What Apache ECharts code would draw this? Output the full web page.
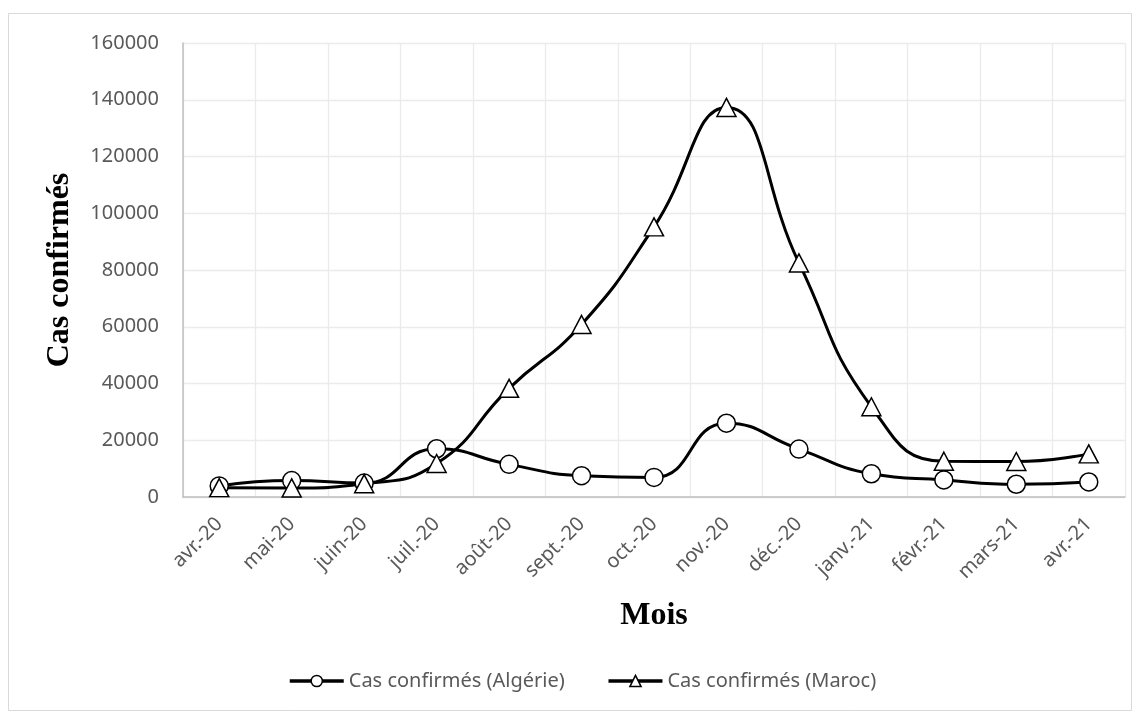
<!DOCTYPE html>
<html>
<head>
<meta charset="utf-8">
<script src="https://cdn.jsdelivr.net/npm/echarts@6/dist/echarts.min.js"></script>
<style>
  html, body { margin: 0; padding: 0; background: #ffffff; }
  #chart { width: 1140px; height: 719px; }
</style>
</head>
<body>
<div id="chart"></div>
<script>
// Monthly confirmed COVID-19 cases, April 2020 to April 2021
const months = ['avr.-20', 'mai-20', 'juin-20', 'juil.-20', 'août-20', 'sept.-20', 'oct.-20',
                'nov.-20', 'déc.-20', 'janv.-21', 'févr.-21', 'mars-21', 'avr.-21'];
const casAlgerie = [3900, 5800, 4900, 17000, 11500, 7500, 6900, 26000, 16900, 8200, 6000, 4500, 5300];
const casMaroc = [3300, 3200, 4700, 11800, 38300, 60800, 95200, 137300, 82500, 31800, 12600, 12500, 15200];
const seriesNames = ['Cas confirmés (Algérie)', 'Cas confirmés (Maroc)'];
const axisTitleY = 'Cas confirmés';
const axisTitleX = 'Mois';

const labelFont = '"Noto Sans", sans-serif';
const titleFont = '"Liberation Serif", "Times New Roman", serif';
const labelColor = '#595959';

const chart = echarts.init(document.getElementById('chart'), null, { renderer: 'canvas' });

function lineSeries(name, data, symbol, size) {
  return {
    name: name,
    type: 'line',
    data: data,
    smooth: 0.5,
    symbol: symbol,
    symbolSize: size,
    showAllSymbol: true,
    lineStyle: { color: '#000000', width: 3 },
    itemStyle: { color: '#ffffff', borderColor: '#000000', borderWidth: 1.5 },
    emphasis: { disabled: true },
    z: 2
  };
}

chart.setOption({
  animation: false,
  backgroundColor: '#ffffff',
  grid: { left: 183, right: 15, top: 43, bottom: 222, containLabel: false },
  xAxis: {
    type: 'category',
    data: months,
    boundaryGap: true,
    axisLine: { show: true, lineStyle: { color: '#bfbfbf', width: 1.5 } },
    axisTick: { show: false },
    axisLabel: {
      interval: 0,
      rotate: 45,
      margin: 24,
      color: labelColor,
      fontFamily: labelFont,
      fontSize: 20
    },
    splitLine: { show: true, interval: 0, lineStyle: { color: '#ebebeb', width: 1.3 } }
  },
  yAxis: {
    type: 'value',
    min: 0,
    max: 160000,
    interval: 20000,
    axisLine: { show: true, lineStyle: { color: '#bfbfbf', width: 1.5 } },
    axisTick: { show: false },
    axisLabel: {
      margin: 24,
      color: labelColor,
      fontFamily: labelFont,
      fontSize: 20,
      formatter: function (v) { return String(v); }
    },
    splitLine: { show: true, lineStyle: { color: '#ebebeb', width: 1.3 } }
  },
  legend: {
    data: seriesNames,
    left: 283,
    top: 666,
    itemWidth: 54,
    itemHeight: 14,
    itemGap: 42,
    lineStyle: { width: 3.5, color: '#000000' },
    itemStyle: { color: '#ffffff', borderColor: '#000000', borderWidth: 1.5 },
    textStyle: { color: labelColor, fontFamily: labelFont, fontSize: 20 }
  },
  graphic: [
    {
      type: 'rect',
      shape: { x: 8.5, y: 13.5, width: 1123, height: 697 },
      style: { fill: null, stroke: '#d9d9d9', lineWidth: 1 },
      silent: true,
      z: -1
    },
    {
      type: 'text',
      x: 60,
      y: 270,
      rotation: Math.PI / 2,
      style: {
        text: axisTitleY,
        font: 'bold 32px ' + titleFont,
        fill: '#000000',
        align: 'center',
        verticalAlign: 'middle'
      }
    },
    {
      type: 'text',
      x: 654,
      y: 616,
      style: {
        text: axisTitleX,
        font: 'bold 32px ' + titleFont,
        fill: '#000000',
        align: 'center',
        verticalAlign: 'middle'
      }
    }
  ],
  series: [
    lineSeries(seriesNames[0], casAlgerie, 'circle', 18),
    lineSeries(seriesNames[1], casMaroc, 'triangle', [19, 18])
  ]
});
</script>
</body>
</html>
